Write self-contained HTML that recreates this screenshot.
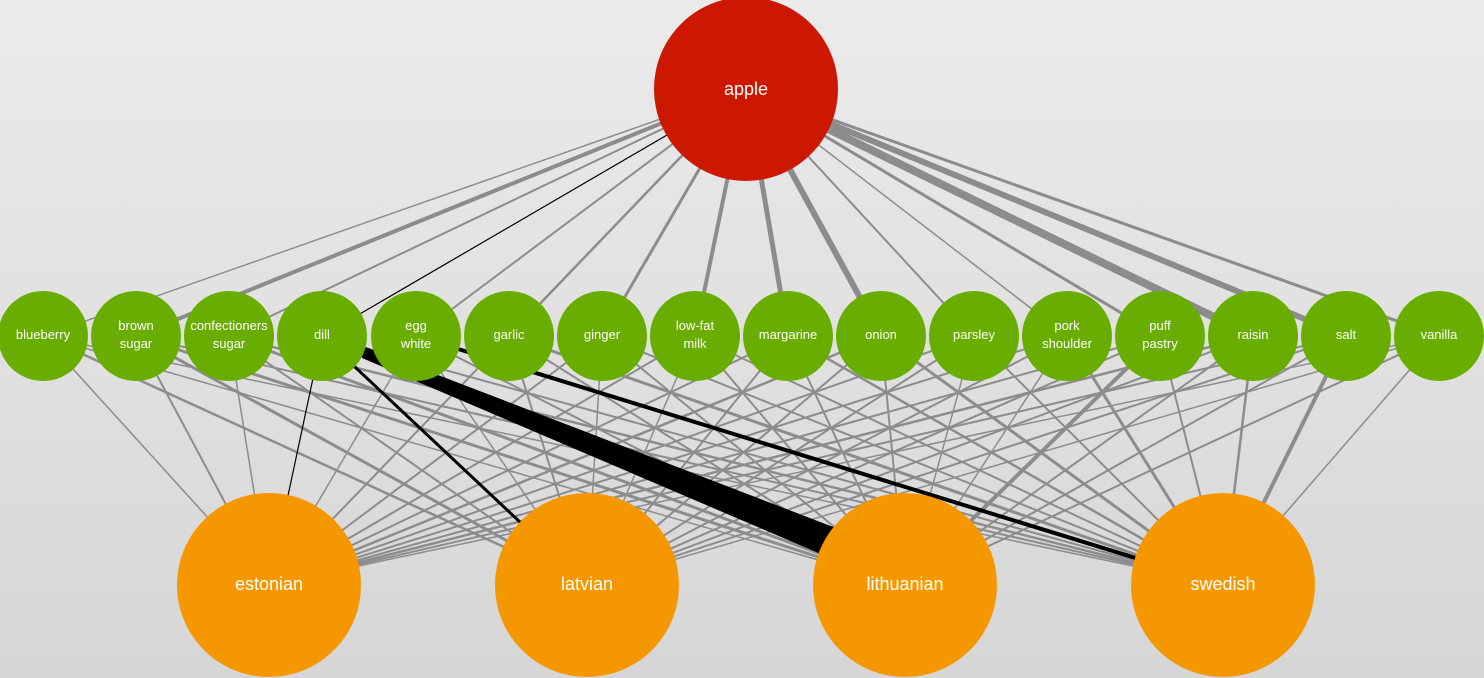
<!DOCTYPE html>
<html><head><meta charset="utf-8"><style>
html,body{margin:0;padding:0;}
body{width:1484px;height:678px;overflow:hidden;background:linear-gradient(#ebebeb,#d6d6d6);}
svg{display:block;}
svg text{font-family:"Liberation Sans",sans-serif;fill:#fff;text-anchor:middle;}
</style></head><body>
<svg width="1484" height="678" viewBox="0 0 1484 678">
<g stroke="#8c8c8c" fill="none">
<line x1="746" y1="89" x2="43" y2="336" stroke-width="1.5"/>
<line x1="746" y1="89" x2="136" y2="336" stroke-width="4"/>
<line x1="746" y1="89" x2="229" y2="336" stroke-width="2"/>
<line x1="746" y1="89" x2="416" y2="336" stroke-width="2"/>
<line x1="746" y1="89" x2="509" y2="336" stroke-width="2.5"/>
<line x1="746" y1="89" x2="602" y2="336" stroke-width="3"/>
<line x1="746" y1="89" x2="695" y2="336" stroke-width="4"/>
<line x1="746" y1="89" x2="788" y2="336" stroke-width="5"/>
<line x1="746" y1="89" x2="881" y2="336" stroke-width="6"/>
<line x1="746" y1="89" x2="974" y2="336" stroke-width="2"/>
<line x1="746" y1="89" x2="1067" y2="336" stroke-width="1.5"/>
<line x1="746" y1="89" x2="1160" y2="336" stroke-width="3"/>
<line x1="746" y1="89" x2="1253" y2="336" stroke-width="8"/>
<line x1="746" y1="89" x2="1346" y2="336" stroke-width="6"/>
<line x1="746" y1="89" x2="1439" y2="336" stroke-width="3"/>
<g stroke-width="1.5">
<line x1="43" y1="336" x2="269" y2="585"/><line x1="43" y1="336" x2="587" y2="585" stroke-width="2.5"/><line x1="43" y1="336" x2="905" y2="585"/><line x1="43" y1="336" x2="1223" y2="585"/>
<line x1="136" y1="336" x2="269" y2="585" stroke-width="2"/><line x1="136" y1="336" x2="587" y2="585" stroke-width="3"/><line x1="136" y1="336" x2="905" y2="585" stroke-width="3"/><line x1="136" y1="336" x2="1223" y2="585" stroke-width="2"/>
<line x1="229" y1="336" x2="269" y2="585"/><line x1="229" y1="336" x2="587" y2="585" stroke-width="2"/><line x1="229" y1="336" x2="905" y2="585" stroke-width="3"/><line x1="229" y1="336" x2="1223" y2="585" stroke-width="2.5"/>
<line x1="416" y1="336" x2="269" y2="585"/><line x1="416" y1="336" x2="587" y2="585"/><line x1="416" y1="336" x2="905" y2="585" stroke-width="2"/>
<line x1="509" y1="336" x2="269" y2="585" stroke-width="2"/><line x1="509" y1="336" x2="587" y2="585" stroke-width="2"/><line x1="509" y1="336" x2="905" y2="585" stroke-width="2"/><line x1="509" y1="336" x2="1223" y2="585" stroke-width="3"/>
<line x1="602" y1="336" x2="269" y2="585" stroke-width="2"/><line x1="602" y1="336" x2="587" y2="585"/><line x1="602" y1="336" x2="905" y2="585" stroke-width="2"/><line x1="602" y1="336" x2="1223" y2="585" stroke-width="2"/>
<line x1="695" y1="336" x2="269" y2="585" stroke-width="2"/><line x1="695" y1="336" x2="587" y2="585"/><line x1="695" y1="336" x2="905" y2="585" stroke-width="2"/><line x1="695" y1="336" x2="1223" y2="585" stroke-width="2"/>
<line x1="788" y1="336" x2="269" y2="585" stroke-width="2"/><line x1="788" y1="336" x2="587" y2="585" stroke-width="2"/><line x1="788" y1="336" x2="905" y2="585" stroke-width="2"/><line x1="788" y1="336" x2="1223" y2="585" stroke-width="2.5"/>
<line x1="881" y1="336" x2="269" y2="585" stroke-width="2.5"/><line x1="881" y1="336" x2="587" y2="585" stroke-width="2"/><line x1="881" y1="336" x2="905" y2="585" stroke-width="2"/><line x1="881" y1="336" x2="1223" y2="585" stroke-width="3"/>
<line x1="974" y1="336" x2="269" y2="585" stroke-width="2"/><line x1="974" y1="336" x2="587" y2="585" stroke-width="2"/><line x1="974" y1="336" x2="905" y2="585"/><line x1="974" y1="336" x2="1223" y2="585" stroke-width="2"/>
<line x1="1067" y1="336" x2="269" y2="585" stroke-width="2"/><line x1="1067" y1="336" x2="587" y2="585" stroke-width="2"/><line x1="1067" y1="336" x2="905" y2="585"/><line x1="1067" y1="336" x2="1223" y2="585" stroke-width="3"/>
<line x1="1160" y1="336" x2="269" y2="585" stroke-width="2"/><line x1="1160" y1="336" x2="587" y2="585" stroke-width="2"/><line x1="1160" y1="336" x2="905" y2="585" stroke-width="4"/><line x1="1160" y1="336" x2="1223" y2="585" stroke-width="2"/>
<line x1="1253" y1="336" x2="269" y2="585" stroke-width="2.5"/><line x1="1253" y1="336" x2="587" y2="585" stroke-width="2"/><line x1="1253" y1="336" x2="905" y2="585" stroke-width="2"/><line x1="1253" y1="336" x2="1223" y2="585" stroke-width="2.5"/>
<line x1="1346" y1="336" x2="269" y2="585" stroke-width="2"/><line x1="1346" y1="336" x2="587" y2="585" stroke-width="2"/><line x1="1346" y1="336" x2="905" y2="585" stroke-width="2"/><line x1="1346" y1="336" x2="1223" y2="585" stroke-width="4"/>
<line x1="1439" y1="336" x2="269" y2="585"/><line x1="1439" y1="336" x2="587" y2="585"/><line x1="1439" y1="336" x2="905" y2="585" stroke-width="2"/><line x1="1439" y1="336" x2="1223" y2="585"/>
<line x1="322" y1="336" x2="1223" y2="585" stroke-width="2"/>
</g>
</g>
<g stroke="#000" fill="none">
<line x1="746" y1="89" x2="322" y2="336" stroke-width="1.2"/>
<line x1="322" y1="336" x2="269" y2="585" stroke-width="1.2"/>
<line x1="322" y1="336" x2="587" y2="585" stroke-width="3"/>
<polygon points="360,345 362,358 870,575 880,545" fill="#000" stroke="none"/>
<line x1="416" y1="336" x2="1223" y2="585" stroke-width="4"/>
</g>
<circle cx="746" cy="89" r="92" fill="#cc1800"/>
<text x="746" y="95" font-size="18">apple</text>
<g fill="#68ad00">
<circle cx="43" cy="336" r="45"/><circle cx="136" cy="336" r="45"/><circle cx="229" cy="336" r="45"/><circle cx="322" cy="336" r="45"/>
<circle cx="416" cy="336" r="45"/><circle cx="509" cy="336" r="45"/><circle cx="602" cy="336" r="45"/><circle cx="695" cy="336" r="45"/>
<circle cx="788" cy="336" r="45"/><circle cx="881" cy="336" r="45"/><circle cx="974" cy="336" r="45"/><circle cx="1067" cy="336" r="45"/>
<circle cx="1160" cy="336" r="45"/><circle cx="1253" cy="336" r="45"/><circle cx="1346" cy="336" r="45"/><circle cx="1439" cy="336" r="45"/>
</g>
<g font-size="13">
<text x="43" y="339">blueberry</text>
<text x="136" y="330">brown</text><text x="136" y="348">sugar</text>
<text x="229" y="330">confectioners</text><text x="229" y="348">sugar</text>
<text x="322" y="339">dill</text>
<text x="416" y="330">egg</text><text x="416" y="348">white</text>
<text x="509" y="339">garlic</text>
<text x="602" y="339">ginger</text>
<text x="695" y="330">low-fat</text><text x="695" y="348">milk</text>
<text x="788" y="339">margarine</text>
<text x="881" y="339">onion</text>
<text x="974" y="339">parsley</text>
<text x="1067" y="330">pork</text><text x="1067" y="348">shoulder</text>
<text x="1160" y="330">puff</text><text x="1160" y="348">pastry</text>
<text x="1253" y="339">raisin</text>
<text x="1346" y="339">salt</text>
<text x="1439" y="339">vanilla</text>
</g>
<g fill="#f59700">
<circle cx="269" cy="585" r="92"/><circle cx="587" cy="585" r="92"/><circle cx="905" cy="585" r="92"/><circle cx="1223" cy="585" r="92"/>
</g>
<g font-size="18">
<text x="269" y="590">estonian</text><text x="587" y="590">latvian</text><text x="905" y="590">lithuanian</text><text x="1223" y="590">swedish</text>
</g>
</svg>
</body></html>
